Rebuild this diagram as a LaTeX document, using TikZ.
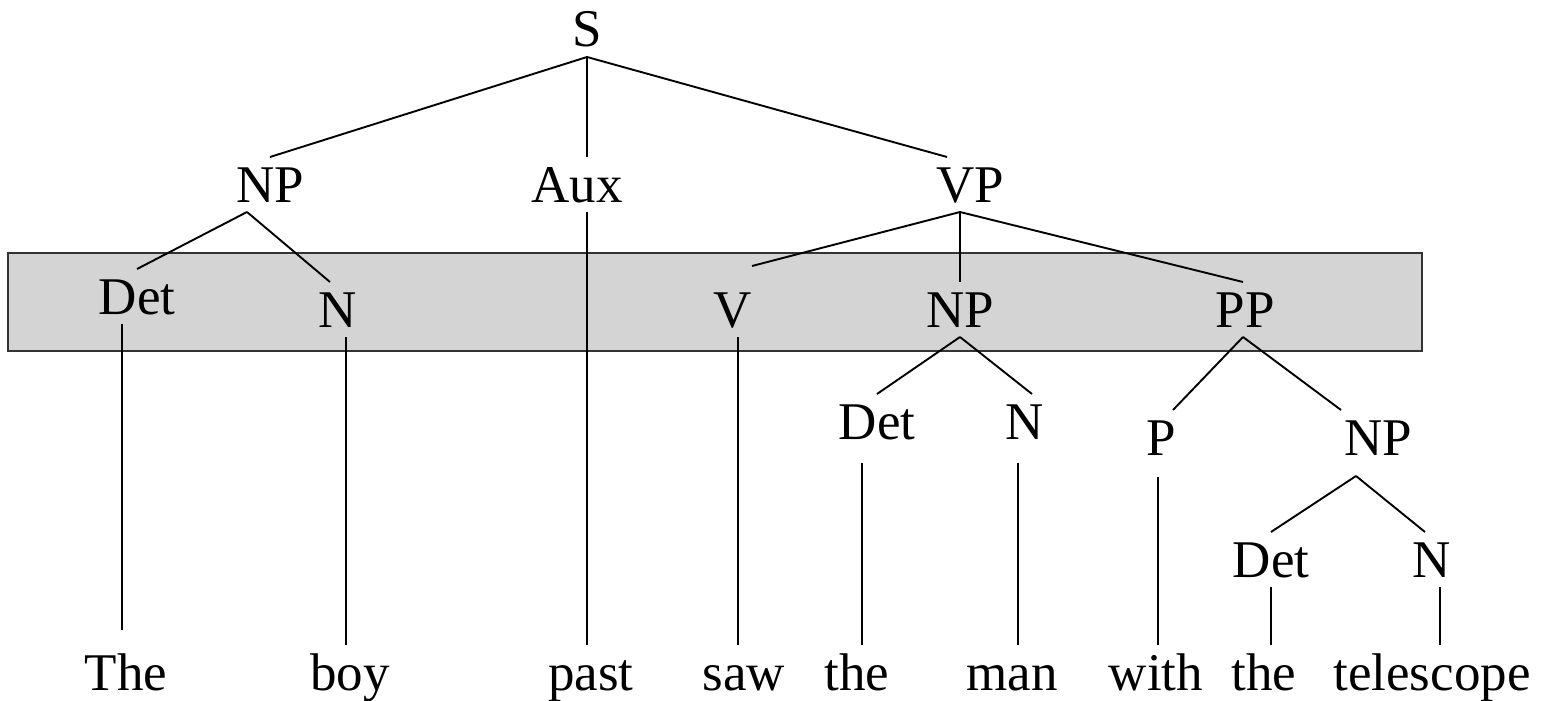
\documentclass[tikz,border=0pt]{standalone}
\usepackage{fontspec}
\setmainfont{Liberation Serif}

\begin{document}
\begin{tikzpicture}[x=1pt,y=-1pt,
    cat/.style={inner sep=0pt,outer sep=10pt,text height=35pt,text depth=0pt,anchor=base},
    branch/.style={line width=1.9pt},
    stem/.style={line width=1.5pt}]
    \useasboundingbox (0,0) rectangle (1547,701);
    \begin{scope}[font=\fontsize{53}{60}\selectfont]

    % shaded row
    \filldraw[fill=black!17,draw=black!80,line width=2pt] (8,253) rectangle (1422,351);

    \node[cat] (S)    at (587,47)  {S};
    \node[cat] (np1)  at (270,202) {NP};
    \node[cat] (aux)  at (577,202) {Aux};
    \node[cat] (vp)   at (970,202) {VP};
    \node[cat] (det1) at (137,314) {Det};
    \node[cat] (n1)   at (338,327) {N};
    \node[cat] (v)    at (733,327) {V};
    \node[cat] (np2)  at (960,327) {NP};
    \node[cat] (pp)   at (1245,327) {PP};
    \node[cat] (det2) at (877,439) {Det};
    \node[cat] (n2)   at (1025,439) {N};
    \node[cat] (p)    at (1161,455) {P};
    \node[cat] (np3)  at (1378,455) {NP};
    \node[cat] (det3) at (1271,577) {Det};
    \node[cat] (n3)   at (1432,577) {N};

    \node[cat] (w1) at (126,690)  {The};
    \node[cat] (w2) at (350,690)  {boy};
    \node[cat] (w3) at (591,690)  {past};
    \node[cat] (w4) at (744,690)  {saw};
    \node[cat] (w5) at (857,690)  {the};
    \node[cat] (w6) at (1012,690) {man};
    \node[cat] (w7) at (1156,690) {with};
    \node[cat] (w8) at (1264,690) {the};
    \node[cat] (w9) at (1432,690) {telescope};

    \draw[branch] (S.south) -- (np1.north);
    \draw[stem]   (S.south) -- (S.south |- aux.north);
    \draw[branch] (S.south) -- ([xshift=-23pt]vp.north);

    \draw[branch] ([xshift=-23pt]np1.south) -- (det1.north);
    \draw[branch] ([xshift=-23pt]np1.south) -- ([xshift=-8pt]n1.north);
    \draw[stem]   (aux.south -| S) -- (w3.north -| S);

    \draw[branch] ([xshift=-10pt]vp.south) -- ([xshift=19pt,yshift=16pt]v.north);
    \draw[stem]   ([xshift=-10pt]vp.south) -- (np2.north);
    \draw[branch] ([xshift=-10pt]vp.south) -- ([xshift=-2pt]pp.north);

    \draw[stem] ([xshift=-15pt]det1.south) -- ([xshift=-4pt,yshift=15pt]w1.north);
    \draw[stem] ([xshift=8pt]n1.south) -- ([xshift=-4pt]w2.north);
    \draw[stem] ([xshift=5pt]v.south) -- ([xshift=-6pt]w4.north);

    \draw[branch] (np2.south) -- (det2.north);
    \draw[branch] (np2.south) -- ([xshift=7pt]n2.north);
    \draw[branch] ([xshift=-2pt]pp.south) -- ([xshift=12pt]p.north);
    \draw[branch] ([xshift=-2pt]pp.south) -- ([xshift=-37pt]np3.north);

    \draw[stem] ([xshift=-15pt,yshift=-14pt]det2.south) -- ([xshift=5pt]w5.north);
    \draw[stem] ([xshift=-7pt,yshift=-14pt]n2.south) -- ([xshift=6pt]w6.north);
    \draw[stem] ([xshift=-3pt,yshift=-12pt]p.south) -- ([xshift=2pt]w7.north);

    \draw[branch] ([xshift=-22pt,yshift=-11pt]np3.south) -- (det3.north);
    \draw[branch] ([xshift=-22pt,yshift=-11pt]np3.south) -- ([xshift=-7pt]n3.north);
    \draw[stem] (det3.south) -- ([xshift=7pt]w8.north);
    \draw[stem] ([xshift=8pt]n3.south) -- ([xshift=8pt]w9.north);

    \end{scope}
\end{tikzpicture}
\end{document}
